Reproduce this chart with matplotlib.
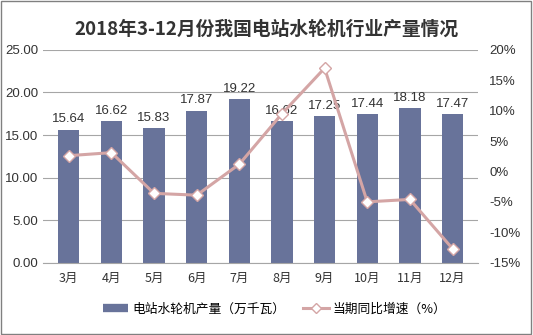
import numpy as np
import matplotlib.pyplot as plt
from matplotlib.lines import Line2D
from matplotlib.patches import Rectangle

plt.rcParams['font.family'] = ['Noto Sans CJK SC', 'DejaVu Sans']

# data
months = ["3月", "4月", "5月", "6月", "7月", "8月", "9月", "10月", "11月", "12月"]
output = [15.64, 16.62, 15.83, 17.87, 19.22, 16.62, 17.25, 17.44, 18.18, 17.47]
growth = [2.6, 3.1, -3.6, -3.9, 1.2, 9.5, 17.0, -5.0, -4.6, -12.7]

bar_color = "#68739A"
line_color = "#D4A5A5"
grid_color = "#A6A6A6"
num_font = "Liberation Sans"

fig = plt.figure(figsize=(5.33, 3.35), dpi=100)
fig.patches.append(Rectangle((0.002, 0.003), 0.995, 0.994, transform=fig.transFigure,
                             fill=False, edgecolor="#808080", linewidth=1))

ax = fig.add_axes([0.081, 0.216, 0.816, 0.635])
x = np.arange(len(months))
ax.bar(x, output, width=0.5, color=bar_color, zorder=2)
for xi, v in zip(x, output):
    ax.text(xi, v + 0.5, f"{v:.2f}", ha="center", va="bottom", fontsize=9.5,
            family=num_font, color="#333333", zorder=5)

ax.set_ylim(0, 25)
ax.set_yticks(np.arange(0, 26, 5))
ax.set_yticklabels([f"{v:.2f}" for v in np.arange(0, 26, 5)], family=num_font, fontsize=9.5)
ax.set_xlim(-0.6, len(months) - 0.4)
ax.set_xticks(x)
ax.set_xticklabels(months, fontsize=9)
ax.yaxis.grid(True, color=grid_color, linewidth=0.8, zorder=0)
ax.set_axisbelow(True)
for s in ["top", "right", "left"]:
    ax.spines[s].set_visible(False)
ax.spines["bottom"].set_color(grid_color)
ax.tick_params(length=0, colors="#333333")
ax.tick_params(axis="x", pad=7)

ax2 = ax.twinx()
ax2.plot(x, growth, color=line_color, linewidth=2.2, marker="D", markersize=6,
         markerfacecolor="white", markeredgecolor=line_color, markeredgewidth=1, zorder=3)
ax2.set_ylim(-15, 20)
ax2.set_yticks(np.arange(-15, 21, 5))
ax2.set_yticklabels([f"{v}%" for v in range(-15, 21, 5)], family=num_font, fontsize=9.5)
for s in ax2.spines.values():
    s.set_visible(False)
ax2.tick_params(length=0, colors="#333333", pad=8)

fig.text(0.5, 0.912, "2018年3-12月份我国电站水轮机行业产量情况", ha="center", va="center",
         fontsize=13.5, fontweight="bold", color="#333333")

handles = [Line2D([0], [0], color=bar_color, linewidth=6, solid_capstyle="butt"),
           Line2D([0], [0], color=line_color, linewidth=2.2, marker="D", markersize=5,
                  markerfacecolor="white", markeredgecolor=line_color)]
fig.legend(handles, ["电站水轮机产量（万千瓦）", "当期同比增速（%）"], loc="center",
           bbox_to_anchor=(0.515, 0.077), ncol=2, frameon=False, fontsize=9.2,
           handlelength=2.0, columnspacing=1.4, handletextpad=0.3)

fig.savefig("out.png", dpi=100)
